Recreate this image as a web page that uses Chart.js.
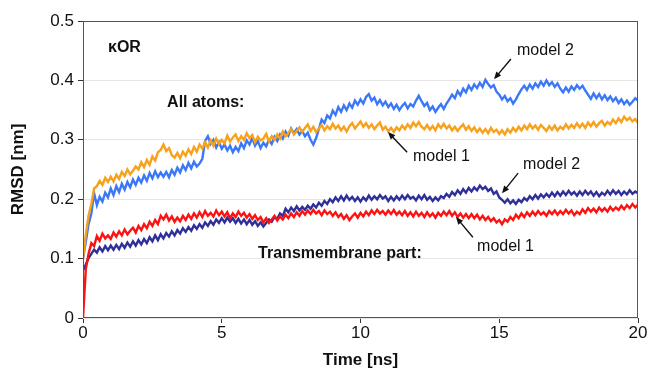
<!DOCTYPE html>
<html>
<head>
<meta charset="utf-8">
<script src="https://cdn.jsdelivr.net/npm/chart.js@4.4.1/dist/chart.umd.min.js"></script>
<style>
  html, body { margin: 0; padding: 0; background: #fff; }
  #wrap { width: 649px; height: 375px; position: relative; }
</style>
</head>
<body>
<div id="wrap"><canvas id="rmsdchart"></canvas></div>
<script>
// RMSD van kOR, 0-20 ns, sample elke 0.1 ns

const dt = 0.1 // ns tussen twee samples
const xTicks = [0, 5, 10, 15, 20]
const yTicks = [0, 0.1, 0.2, 0.3, 0.4, 0.5]

// all atoms, model 1 (oranje)
const allModel1 = [
  0.100, 0.140, 0.172, 0.192, 0.218, 0.222, 0.231, 0.224, 0.236, 0.229,
  0.238, 0.230, 0.241, 0.234, 0.246, 0.239, 0.250, 0.242, 0.248, 0.255,
  0.250, 0.262, 0.254, 0.266, 0.258, 0.272, 0.265, 0.279, 0.283, 0.292,
  0.281, 0.286, 0.274, 0.270, 0.278, 0.269, 0.280, 0.273, 0.284, 0.276,
  0.288, 0.280, 0.292, 0.285, 0.296, 0.287, 0.299, 0.290, 0.302, 0.293,
  0.300, 0.294, 0.307, 0.297, 0.304, 0.309, 0.298, 0.306, 0.300, 0.311,
  0.303, 0.308, 0.296, 0.305, 0.299, 0.302, 0.310, 0.297, 0.306, 0.300,
  0.309, 0.302, 0.314, 0.306, 0.311, 0.318, 0.309, 0.315, 0.321, 0.313,
  0.320, 0.326, 0.315, 0.322, 0.313, 0.319, 0.325, 0.316, 0.323, 0.318,
  0.327, 0.319, 0.324, 0.316, 0.322, 0.314, 0.323, 0.328, 0.319, 0.325,
  0.331, 0.322, 0.328, 0.320, 0.326, 0.318, 0.324, 0.329, 0.317, 0.322,
  0.314, 0.320, 0.313, 0.321, 0.316, 0.324, 0.318, 0.326, 0.320, 0.329,
  0.323, 0.330, 0.322, 0.318, 0.325, 0.317, 0.323, 0.316, 0.326, 0.320,
  0.327, 0.319, 0.324, 0.316, 0.322, 0.315, 0.321, 0.326, 0.317, 0.323,
  0.315, 0.321, 0.313, 0.319, 0.312, 0.318, 0.311, 0.320, 0.313, 0.317,
  0.310, 0.316, 0.309, 0.318, 0.312, 0.320, 0.314, 0.322, 0.316, 0.324,
  0.318, 0.326, 0.319, 0.324, 0.317, 0.325, 0.320, 0.315, 0.323, 0.317,
  0.324, 0.316, 0.322, 0.318, 0.326, 0.319, 0.325, 0.320, 0.328, 0.321,
  0.327, 0.320, 0.329, 0.323, 0.330, 0.322, 0.328, 0.332, 0.324, 0.330,
  0.326, 0.334, 0.328, 0.336, 0.330, 0.339, 0.333, 0.337, 0.331, 0.335,
  0.328
]

// all atoms, model 2 (blauw)
const allModel2 = [
  0.100, 0.128, 0.158, 0.176, 0.210, 0.190, 0.204, 0.196, 0.211, 0.203,
  0.218, 0.207, 0.222, 0.212, 0.226, 0.216, 0.229, 0.220, 0.233, 0.224,
  0.236, 0.228, 0.240, 0.231, 0.244, 0.235, 0.247, 0.237, 0.245, 0.238,
  0.246, 0.237, 0.249, 0.241, 0.253, 0.245, 0.257, 0.249, 0.261, 0.252,
  0.263, 0.255, 0.260, 0.268, 0.298, 0.306, 0.293, 0.300, 0.287, 0.296,
  0.285, 0.292, 0.282, 0.290, 0.279, 0.288, 0.281, 0.294, 0.286, 0.299,
  0.292, 0.303, 0.290, 0.298, 0.286, 0.295, 0.289, 0.300, 0.293, 0.305,
  0.298, 0.309, 0.302, 0.314, 0.307, 0.319, 0.311, 0.318, 0.309, 0.315,
  0.306, 0.312, 0.300, 0.292, 0.303, 0.318, 0.334, 0.328, 0.341, 0.336,
  0.349, 0.342, 0.355, 0.347, 0.358, 0.350, 0.361, 0.354, 0.366, 0.359,
  0.368, 0.361, 0.372, 0.377, 0.366, 0.371, 0.360, 0.367, 0.358, 0.364,
  0.355, 0.361, 0.352, 0.359, 0.350, 0.357, 0.362, 0.353, 0.360, 0.356,
  0.366, 0.374, 0.365, 0.357, 0.362, 0.350, 0.356, 0.347, 0.354, 0.360,
  0.352, 0.361, 0.368, 0.376, 0.370, 0.382, 0.375, 0.386, 0.380, 0.391,
  0.384, 0.393, 0.387, 0.396, 0.389, 0.401, 0.394, 0.388, 0.392, 0.381,
  0.376, 0.368, 0.374, 0.365, 0.370, 0.361, 0.368, 0.377, 0.385, 0.391,
  0.384, 0.393, 0.386, 0.395, 0.389, 0.398, 0.391, 0.400, 0.392, 0.397,
  0.389, 0.395, 0.386, 0.380, 0.388, 0.381, 0.390, 0.384, 0.392, 0.386,
  0.391, 0.383, 0.376, 0.369, 0.378, 0.370, 0.377, 0.368, 0.375, 0.367,
  0.373, 0.365, 0.371, 0.362, 0.368, 0.360, 0.366, 0.359, 0.364, 0.370,
  0.366
]

// transmembrane part, model 1 (rood)
const tmModel1 = [
  0.000, 0.082, 0.108, 0.126, 0.121, 0.138, 0.130, 0.142, 0.134, 0.139,
  0.133, 0.144, 0.137, 0.146, 0.139, 0.149, 0.141, 0.147, 0.152, 0.144,
  0.155, 0.148, 0.158, 0.151, 0.162, 0.155, 0.165, 0.158, 0.172, 0.166,
  0.174, 0.164, 0.171, 0.162, 0.169, 0.163, 0.172, 0.165, 0.174, 0.167,
  0.176, 0.169, 0.178, 0.170, 0.180, 0.172, 0.177, 0.171, 0.181, 0.173,
  0.179, 0.171, 0.178, 0.168, 0.176, 0.170, 0.179, 0.172, 0.177, 0.169,
  0.175, 0.167, 0.173, 0.165, 0.170, 0.161, 0.168, 0.160, 0.166, 0.172,
  0.164, 0.171, 0.166, 0.174, 0.168, 0.176, 0.170, 0.178, 0.172, 0.180,
  0.174, 0.181, 0.175, 0.182, 0.176, 0.180, 0.173, 0.181, 0.175, 0.179,
  0.172, 0.178, 0.170, 0.175, 0.167, 0.173, 0.165, 0.171, 0.176, 0.169,
  0.177, 0.171, 0.179, 0.173, 0.181, 0.175, 0.182, 0.176, 0.180, 0.174,
  0.181, 0.175, 0.182, 0.174, 0.179, 0.173, 0.180, 0.172, 0.178, 0.171,
  0.179, 0.172, 0.177, 0.170, 0.178, 0.171, 0.176, 0.169, 0.177, 0.172,
  0.179, 0.173, 0.180, 0.172, 0.178, 0.170, 0.176, 0.169, 0.175, 0.168,
  0.175, 0.168, 0.174, 0.166, 0.172, 0.165, 0.170, 0.163, 0.168, 0.161,
  0.165, 0.158, 0.166, 0.162, 0.170, 0.165, 0.174, 0.168, 0.176, 0.170,
  0.178, 0.172, 0.179, 0.173, 0.180, 0.174, 0.178, 0.172, 0.180, 0.175,
  0.181, 0.174, 0.180, 0.175, 0.182, 0.176, 0.181, 0.173, 0.179, 0.175,
  0.183, 0.177, 0.185, 0.179, 0.184, 0.178, 0.186, 0.180, 0.185, 0.179,
  0.187, 0.181, 0.186, 0.182, 0.189, 0.183, 0.190, 0.185, 0.192, 0.186,
  0.191
]

// transmembrane part, model 2 (donkerblauw)
const tmModel2 = [
  0.080, 0.090, 0.101, 0.108, 0.115, 0.110, 0.119, 0.112, 0.121, 0.114,
  0.122, 0.115, 0.123, 0.116, 0.125, 0.118, 0.127, 0.120, 0.129, 0.122,
  0.131, 0.124, 0.133, 0.126, 0.136, 0.129, 0.139, 0.131, 0.141, 0.134,
  0.143, 0.137, 0.146, 0.139, 0.148, 0.142, 0.151, 0.145, 0.153, 0.147,
  0.156, 0.150, 0.158, 0.152, 0.161, 0.155, 0.163, 0.157, 0.166, 0.160,
  0.168, 0.161, 0.169, 0.162, 0.168, 0.160, 0.167, 0.159, 0.166, 0.158,
  0.165, 0.157, 0.163, 0.155, 0.161, 0.154, 0.160, 0.166, 0.162, 0.170,
  0.167, 0.176, 0.172, 0.184, 0.178, 0.186, 0.180, 0.188, 0.181, 0.187,
  0.182, 0.189, 0.184, 0.191, 0.186, 0.194, 0.189, 0.197, 0.192, 0.200,
  0.195, 0.203, 0.197, 0.205, 0.198, 0.206, 0.199, 0.204, 0.197, 0.203,
  0.196, 0.203, 0.198, 0.206, 0.199, 0.205, 0.200, 0.207, 0.201, 0.205,
  0.197, 0.204, 0.198, 0.205, 0.199, 0.206, 0.200, 0.207, 0.201, 0.204,
  0.198, 0.206, 0.200, 0.207, 0.199, 0.204, 0.197, 0.203, 0.198, 0.205,
  0.202, 0.209, 0.204, 0.212, 0.207, 0.215, 0.209, 0.217, 0.211, 0.219,
  0.213, 0.220, 0.215, 0.223, 0.217, 0.221, 0.214, 0.218, 0.209, 0.213,
  0.203, 0.199, 0.194, 0.200, 0.193, 0.198, 0.192, 0.199, 0.195, 0.202,
  0.198, 0.205, 0.200, 0.207, 0.201, 0.208, 0.203, 0.209, 0.204, 0.211,
  0.205, 0.212, 0.206, 0.213, 0.207, 0.214, 0.208, 0.212, 0.206, 0.213,
  0.207, 0.214, 0.208, 0.213, 0.206, 0.212, 0.205, 0.211, 0.207, 0.214,
  0.208, 0.215, 0.209, 0.214, 0.207, 0.213, 0.208, 0.215, 0.209, 0.213,
  0.210
]

// teksten in de grafiek: [tekst, x (ns), y (nm), vet]
const notes = [
  ['\u03baOR', 0.9, 0.456, true],
  ['All atoms:', 3.03, 0.362, true],
  ['Transmembrane part:', 6.31, 0.109, true],
  ['model 2', 15.64, 0.451, false],
  ['model 1', 11.89, 0.271, false],
  ['model 2', 15.86, 0.258, false],
  ['model 1', 14.2, 0.121, false]
]
// pijlen: [van x, van y, naar x, naar y] (punt bij "naar")
const arrows = [
  [15.42, 0.436, 14.81, 0.402],
  [11.68, 0.279, 10.99, 0.313],
  [15.68, 0.244, 15.10, 0.210],
  [14.05, 0.136, 13.44, 0.170]
]

function toPoints(values) {
  return values.map((v, i) => ({ x: +(i * dt).toFixed(1), y: v }))
}

// kader, teksten en pijlen tekenen
const extras = {
  id: 'extras',
  afterDatasetsDraw(chart) {
    const ctx = chart.ctx
    const a = chart.chartArea
    const xs = chart.scales.x
    const ys = chart.scales.y
    ctx.save()
    ctx.strokeStyle = '#555'
    ctx.lineWidth = 1
    ctx.strokeRect(a.left + 0.5, a.top + 0.5, a.right - a.left - 1, a.bottom - a.top - 1)

    ctx.fillStyle = '#111'
    ctx.textBaseline = 'middle'
    ctx.textAlign = 'left'
    notes.forEach(n => {
      ctx.font = (n[3] ? 'bold ' : '') + '16px "Liberation Sans", Arial, sans-serif'
      ctx.fillText(n[0], xs.getPixelForValue(n[1]), ys.getPixelForValue(n[2]))
    })

    ctx.strokeStyle = '#111'
    ctx.lineWidth = 1.4
    arrows.forEach(p => {
      const x1 = xs.getPixelForValue(p[0]), y1 = ys.getPixelForValue(p[1])
      const x2 = xs.getPixelForValue(p[2]), y2 = ys.getPixelForValue(p[3])
      const ang = Math.atan2(y2 - y1, x2 - x1)
      ctx.beginPath()
      ctx.moveTo(x1, y1)
      ctx.lineTo(x2 - 5 * Math.cos(ang), y2 - 5 * Math.sin(ang))
      ctx.stroke()
      ctx.beginPath()
      ctx.moveTo(x2, y2)
      ctx.lineTo(x2 - 8 * Math.cos(ang - 0.4), y2 - 8 * Math.sin(ang - 0.4))
      ctx.lineTo(x2 - 8 * Math.cos(ang + 0.4), y2 - 8 * Math.sin(ang + 0.4))
      ctx.closePath()
      ctx.fill()
    })
    ctx.restore()
  }
}

Chart.defaults.font.family = '"Liberation Sans", Arial, sans-serif'
Chart.defaults.color = '#111'

const myChart = document.getElementById('rmsdchart').getContext('2d')

const chart = new Chart(myChart, {
  type: 'line',
  data: {
    datasets: [
      { label: 'All atoms model 1', data: toPoints(allModel1), borderColor: '#f7a11c', order: 1 },
      { label: 'All atoms model 2', data: toPoints(allModel2), borderColor: '#3b78f7', order: 2 },
      { label: 'Transmembrane model 1', data: toPoints(tmModel1), borderColor: '#fb1212', order: 3 },
      { label: 'Transmembrane model 2', data: toPoints(tmModel2), borderColor: '#2f2f99', order: 4 }
    ]
  },
  options: {
    responsive: true,
    maintainAspectRatio: false,
    animation: false,
    layout: { padding: { top: 21, right: 11, left: 8, bottom: 0 } },
    elements: {
      line: { borderWidth: 2.4, tension: 0, fill: false, borderJoinStyle: 'miter' },
      point: { radius: 0 }
    },
    plugins: {
      legend: { display: false },
      tooltip: { enabled: false }
    },
    scales: {
      x: {
        type: 'linear',
        min: 0,
        max: 20,
        afterBuildTicks: s => { s.ticks = xTicks.map(v => ({ value: v })) },
        afterFit: s => { s.height = 57 },
        ticks: { font: { size: 17 }, padding: 0, maxRotation: 0, color: '#111' },
        grid: { drawOnChartArea: false, tickLength: 5, color: '#333' },
        border: { display: false },
        title: { display: true, text: 'Time [ns]', font: { size: 17, weight: 'bold' }, padding: { top: 3 }, color: '#111' }
      },
      y: {
        min: 0,
        max: 0.5,
        afterBuildTicks: s => { s.ticks = yTicks.map(v => ({ value: v })) },
        afterFit: s => { s.width = 75 },
        ticks: { font: { size: 17 }, padding: 4, color: '#111' },
        grid: { color: '#e6e6e6', tickColor: '#333', tickLength: 5 },
        border: { display: false },
        title: { display: true, text: 'RMSD [nm]', font: { size: 17, weight: 'bold' }, padding: 0, color: '#111' }
      }
    }
  },
  plugins: [extras]
})
</script>
</body>
</html>
